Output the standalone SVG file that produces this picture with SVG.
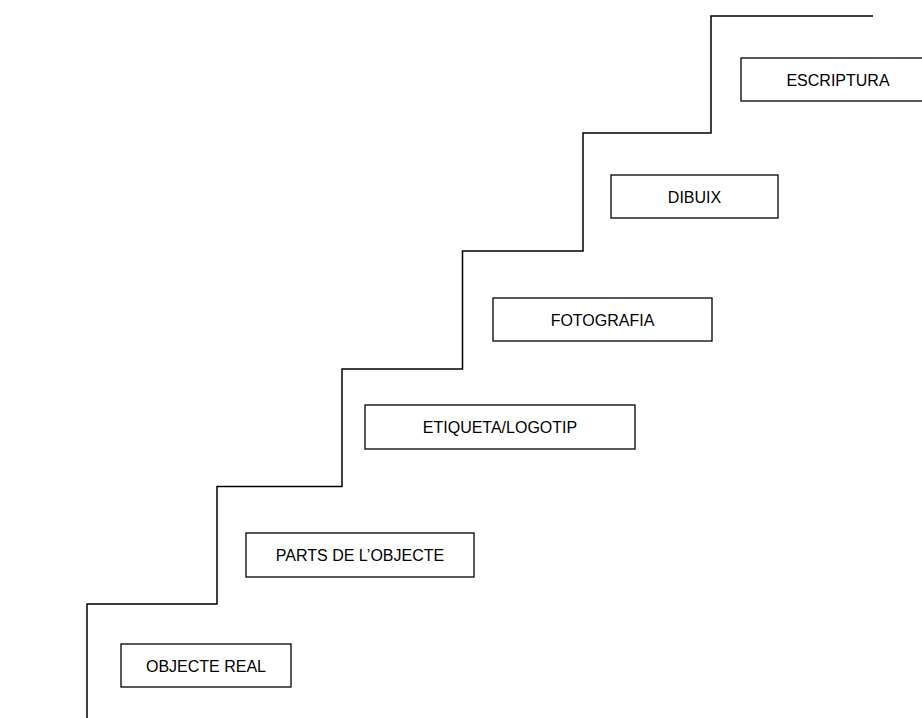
<svg xmlns="http://www.w3.org/2000/svg" width="922" height="718" viewBox="0 0 922 718">
<style>
.box{fill:#fff;stroke:#000;stroke-width:1.3}
.lbl{font-family:"Liberation Sans",Arial,sans-serif;font-size:16px;fill:#000;text-anchor:middle}
.stair{fill:none;stroke:#000;stroke-width:1.5}
</style>
<rect width="922" height="718" fill="#fff"/>
<g id="connectors">
<path class="stair" d="M87,718 V604 H217 V486.5 H342 V369 H462.5 V251 H583 V133 H711 V16 H873"/>
</g>
<g id="objecte-real"><rect class="box" x="121" y="644" width="170" height="43"/><text class="lbl" x="206" y="671.5">OBJECTE REAL</text></g>
<g id="parts"><rect class="box" x="246" y="533" width="228" height="44"/><text class="lbl" x="360" y="561">PARTS DE L’OBJECTE</text></g>
<g id="etiqueta"><rect class="box" x="365" y="405" width="270" height="44"/><text class="lbl" x="500" y="433">ETIQUETA/LOGOTIP</text></g>
<g id="fotografia"><rect class="box" x="493" y="298" width="219" height="43"/><text class="lbl" x="602.5" y="325.5">FOTOGRAFIA</text></g>
<g id="dibuix"><rect class="box" x="611" y="175" width="167" height="43"/><text class="lbl" x="694.5" y="202.5">DIBUIX</text></g>
<g id="escriptura"><rect class="box" x="741" y="58" width="190" height="43"/><text class="lbl" x="838" y="85.5">ESCRIPTURA</text></g>
</svg>
